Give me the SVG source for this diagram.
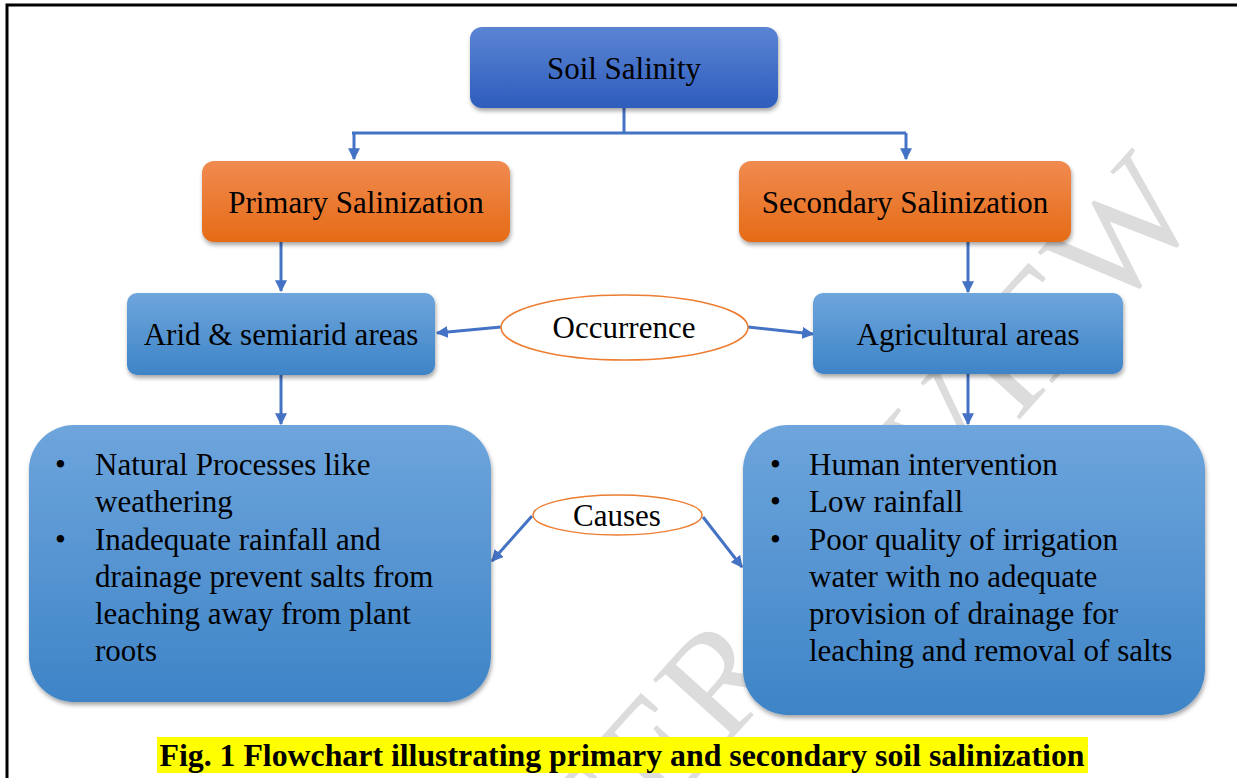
<svg xmlns="http://www.w3.org/2000/svg" width="1237" height="778" viewBox="0 0 1237 778">
<defs>
<linearGradient id="gDark" x1="0" y1="0" x2="0" y2="1"><stop offset="0" stop-color="#5b84d3"/><stop offset="1" stop-color="#2e5dbd"/></linearGradient>
<linearGradient id="gOrange" x1="0" y1="0" x2="0" y2="1"><stop offset="0" stop-color="#f08b50"/><stop offset="1" stop-color="#e56b16"/></linearGradient>
<linearGradient id="gBlue" x1="0" y1="0" x2="0" y2="1"><stop offset="0" stop-color="#6ea5dc"/><stop offset="1" stop-color="#3e84c7"/></linearGradient>
<filter id="sh" x="-10%" y="-10%" width="120%" height="130%"><feDropShadow dx="1" dy="3" stdDeviation="2" flood-color="#000" flood-opacity="0.35"/></filter>
<marker id="ah" viewBox="0 0 10 10" refX="9" refY="5" markerWidth="4" markerHeight="4" orient="auto" markerUnits="strokeWidth"><path d="M0,0 L10,5 L0,10 z" fill="#4472c4"/></marker>
<style>
.t{font-family:"Liberation Serif","Times New Roman",serif;font-size:31px;fill:#000}
.c{text-anchor:middle}
.ln{fill:none;stroke:#4472c4;stroke-width:3}
.ell{fill:#fff;stroke:#ed7d31;stroke-width:1.5}
.wm{font-family:"Liberation Serif","Times New Roman",serif;font-size:150px;fill:#dcdcdc}
</style>
</defs>
<rect width="1237" height="778" fill="#fff"/>
<path d="M7,778 V5 H1237" fill="none" stroke="#000" stroke-width="3"/>
<text class="wm c" transform="translate(875,580) rotate(-48)">PEER REVIEW</text>

<g id="connectors">
<path class="ln" d="M624,108 V133 M352,133 H906"/>
<path class="ln" d="M354,133 V159" marker-end="url(#ah)"/>
<path class="ln" d="M906,133 V159" marker-end="url(#ah)"/>
<path class="ln" d="M281,242 V291" marker-end="url(#ah)"/>
<path class="ln" d="M968,242 V292" marker-end="url(#ah)"/>
<path class="ln" d="M281,375 V424" marker-end="url(#ah)"/>
<path class="ln" d="M968,374 V424" marker-end="url(#ah)"/>
<path class="ln" d="M501,327 L437,333" marker-end="url(#ah)"/>
<path class="ln" d="M748,327 L813,334" marker-end="url(#ah)"/>
<path class="ln" d="M532,516 L492,561" marker-end="url(#ah)"/>
<path class="ln" d="M703,517 L742,567" marker-end="url(#ah)"/>
</g>

<g id="soil-salinity">
<rect x="470" y="27" width="308" height="81" rx="12" fill="url(#gDark)" filter="url(#sh)"/>
<text class="t c" x="624" y="79">Soil Salinity</text>
</g>
<g id="primary">
<rect x="202" y="161" width="308" height="81" rx="12" fill="url(#gOrange)" filter="url(#sh)"/>
<text class="t c" x="356" y="213">Primary Salinization</text>
</g>
<g id="secondary">
<rect x="739" y="161" width="332" height="81" rx="12" fill="url(#gOrange)" filter="url(#sh)"/>
<text class="t c" x="905" y="213">Secondary Salinization</text>
</g>
<g id="arid">
<rect x="127" y="293" width="308" height="82" rx="10" fill="url(#gBlue)" filter="url(#sh)"/>
<text class="t c" x="281" y="345">Arid &amp; semiarid areas</text>
</g>
<g id="agricultural">
<rect x="813" y="293" width="310" height="81" rx="10" fill="url(#gBlue)" filter="url(#sh)"/>
<text class="t c" x="968" y="345">Agricultural areas</text>
</g>
<g id="occurrence">
<ellipse class="ell" cx="624.5" cy="327.5" rx="123.5" ry="32.5"/>
<text class="t c" x="624" y="338">Occurrence</text>
</g>
<g id="causes">
<ellipse class="ell" cx="617.5" cy="515" rx="84.5" ry="20"/>
<text class="t c" x="617" y="526">Causes</text>
</g>
<g id="primary-causes">
<rect x="29" y="425" width="462" height="277" rx="45" fill="url(#gBlue)" filter="url(#sh)"/>
<text class="t" x="55" y="475">•</text>
<text class="t" x="55" y="550">•</text>
<text class="t" x="95" y="475">Natural Processes like</text>
<text class="t" x="95" y="512">weathering</text>
<text class="t" x="95" y="550">Inadequate rainfall and</text>
<text class="t" x="95" y="587">drainage prevent salts from</text>
<text class="t" x="95" y="624">leaching away from plant</text>
<text class="t" x="95" y="661">roots</text>
</g>
<g id="secondary-causes">
<rect x="743" y="425" width="462" height="290" rx="45" fill="url(#gBlue)" filter="url(#sh)"/>
<text class="t" x="770" y="475">•</text>
<text class="t" x="770" y="512">•</text>
<text class="t" x="770" y="550">•</text>
<text class="t" x="809" y="475">Human intervention</text>
<text class="t" x="809" y="512">Low rainfall</text>
<text class="t" x="809" y="550">Poor quality of irrigation</text>
<text class="t" x="809" y="587">water with no adequate</text>
<text class="t" x="809" y="624">provision of drainage for</text>
<text class="t" x="809" y="661">leaching and removal of salts</text>
</g>
<g id="caption">
<rect x="157" y="737" width="931" height="36" fill="#ffff00"/>
<text x="622" y="766" text-anchor="middle" style="font-family:'Liberation Serif','Times New Roman',serif;font-size:32px;font-weight:bold" textLength="925" lengthAdjust="spacingAndGlyphs">Fig. 1 Flowchart illustrating primary and secondary soil salinization</text>
</g>
</svg>
